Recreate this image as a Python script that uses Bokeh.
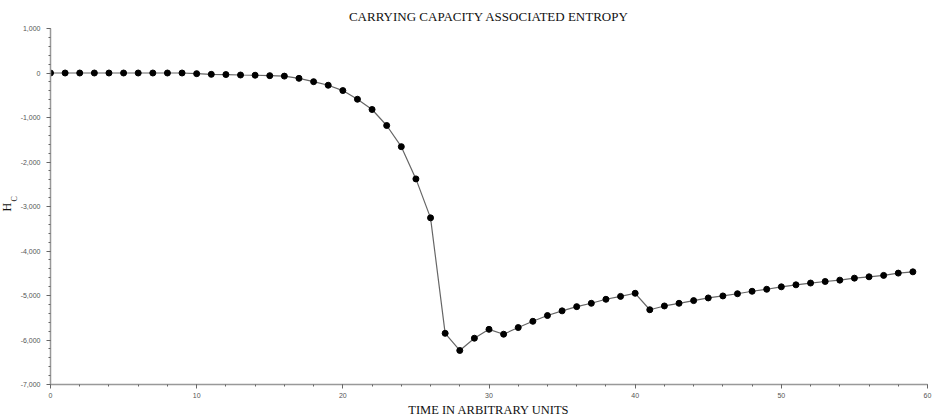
from bokeh.plotting import figure
from bokeh.models import Range1d, SingleIntervalTicker, NumeralTickFormatter, Title
from bokeh.embed import file_html
from bokeh.resources import INLINE

# Data
time_units = list(range(60))
entropy_hc = [0, 0, 0, 0, 0, 0, 0, 0, 0, 0,
              -15, -30, -35, -45, -50, -60, -70, -120, -195, -275,
              -395, -590, -820, -1180, -1655, -2380, -3255, -5850, -6235, -5960,
              -5760, -5870, -5720, -5580, -5450, -5345, -5250, -5175, -5085, -5020,
              -4950, -5320, -5235, -5175, -5115, -5055, -5010, -4960, -4905, -4860,
              -4805, -4760, -4720, -4685, -4655, -4610, -4580, -4548, -4497, -4468]

title_text = "CARRYING CAPACITY ASSOCIATED ENTROPY"
x_title = "TIME IN ARBITRARY UNITS"
y_title = "H"
y_sub = "C"

p = figure(width=935, height=419, output_backend="svg", toolbar_location=None,
           x_range=Range1d(0, 60), y_range=Range1d(-7000, 1000),
           min_border_left=50, min_border_right=8, min_border_top=28, min_border_bottom=33)
p.outline_line_color = None
p.xgrid.visible = False
p.ygrid.visible = False

p.title.text = title_text
p.title.align = "center"
p.title.text_font = "Liberation Serif"
p.title.text_font_size = "13px"
p.title.text_font_style = "normal"
p.title.text_color = "#111111"

p.xaxis.ticker = SingleIntervalTicker(interval=10, num_minor_ticks=5)
p.yaxis.ticker = SingleIntervalTicker(interval=1000, num_minor_ticks=5)
p.yaxis.formatter = NumeralTickFormatter(format="0,0")

for ax in (p.xaxis, p.yaxis):
    ax.axis_line_color = "#999999"
    ax.axis_line_width = 1.5
    ax.major_tick_line_color = "#666666"
    ax.minor_tick_line_color = "#666666"
    ax.major_tick_out = 4
    ax.major_tick_in = 0
    ax.minor_tick_out = 2
    ax.minor_tick_in = 0
    ax.major_label_text_font = "Liberation Sans"
    ax.major_label_text_font_size = "7px"
    ax.major_label_text_color = "#555555"

p.xaxis.axis_label = x_title
p.xaxis.axis_label_text_font = "Liberation Serif"
p.xaxis.axis_label_text_font_style = "normal"
p.xaxis.axis_label_text_color = "#111111"
p.xaxis.axis_label_text_font_size = "12.5px"
p.xaxis.axis_label_standoff = 2
p.xaxis.major_label_standoff = 4

p.yaxis.major_label_standoff = 6

# y-axis title: H with subscript C, as two side titles placed along the axis
sub_title = Title(text=y_sub, align="left", offset=183, standoff=-3,
                  text_font="Liberation Serif", text_font_size="8px",
                  text_font_style="normal", text_color="#111111")
main_title = Title(text=y_title, align="left", offset=173, standoff=-8,
                   text_font="Liberation Serif", text_font_size="12px",
                   text_font_style="normal", text_color="#111111")
p.add_layout(sub_title, "left")
p.add_layout(main_title, "left")

p.line(time_units, entropy_hc, line_color="#666666", line_width=1.2)
p.scatter(time_units, entropy_hc, size=6, fill_color="black", line_color="black")

open("out.html", "w").write(file_html(p, INLINE))
